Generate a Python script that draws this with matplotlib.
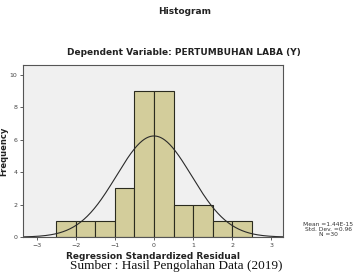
import matplotlib.pyplot as plt
import numpy as np

bin_edges = [-2.5, -2.0, -1.5, -1.0, -0.5, 0.0, 0.5, 1.0, 1.5, 2.0, 2.5]
counts = [1, 1, 1, 3, 9, 9, 2, 2, 1, 1]
mean = 1.44e-15
std = 0.96
n = 30

fig = plt.figure(figsize=(3.53, 2.76), dpi=100)
ax = fig.add_axes([0.065, 0.141, 0.737, 0.623])
ax.set_facecolor("#f0f0f0")

widths = np.diff(bin_edges)
ax.bar(bin_edges[:-1], counts, width=widths, align="edge",
       color="#d3cd9b", edgecolor="#2b2b1f", linewidth=0.8)

xs = np.linspace(-3.35, 3.3, 300)
ys = n * 0.5 / (std * np.sqrt(2 * np.pi)) * np.exp(-0.5 * ((xs - mean) / std) ** 2)
ax.plot(xs, ys, color="#2a2a2a", linewidth=0.8)

ax.set_xlim(-3.35, 3.3)
ax.set_ylim(0, 10.6)
ax.set_xticks([-3, -2, -1, 0, 1, 2, 3])
ax.set_yticks([0, 2, 4, 6, 8, 10])
ax.tick_params(labelsize=4.5, length=2, width=0.6, colors="#444444", pad=2)
for s in ax.spines.values():
    s.set_color("#555555")
    s.set_linewidth(0.8)

ax.set_xlabel("Regression Standardized Residual", fontsize=6.5, fontweight="bold",
              color="#222222", labelpad=3)
ax.set_ylabel("Frequency", fontsize=6, fontweight="bold", color="#222222")
ax.yaxis.set_label_coords(-0.055, 0.5)

fig.text(0.524, 0.96, "Histogram", ha="center", va="center", fontsize=6.5,
         fontweight="bold", color="#222222")
fig.text(0.52, 0.81, "Dependent Variable: PERTUMBUHAN LABA (Y)", ha="center", va="center",
         fontsize=6.5, fontweight="bold", color="#222222")
fig.text(0.93, 0.168, "Mean =1.44E-15\nStd. Dev. =0.96\nN =30", ha="center", va="center",
         fontsize=4.3, color="#333333", linespacing=0.95)
fig.text(0.5, 0.035, "Sumber : Hasil Pengolahan Data (2019)", ha="center", va="center",
         fontsize=9.5, family="Liberation Serif", color="#111111")

fig.savefig("out.png", dpi=100)
